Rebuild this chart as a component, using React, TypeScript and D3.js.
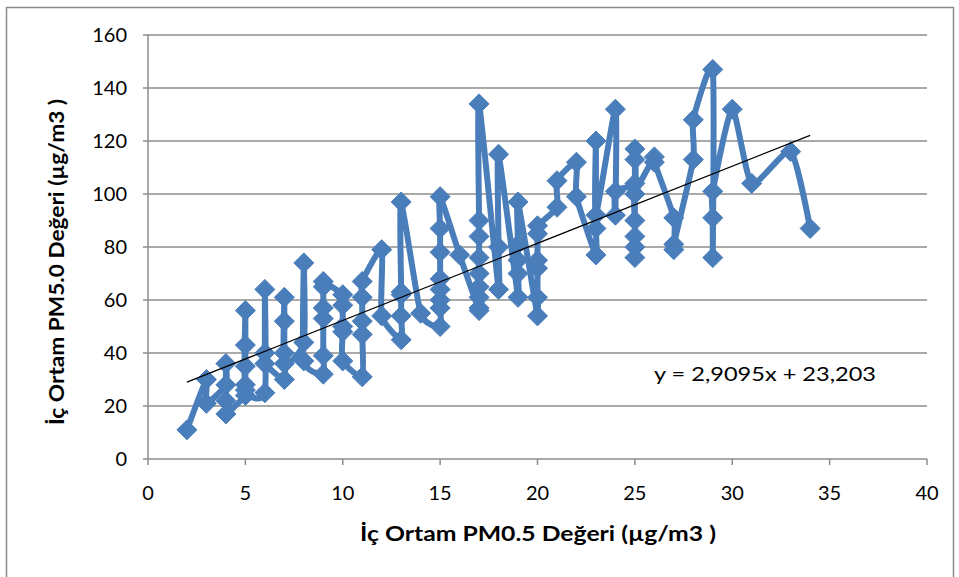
import React from "react";
import * as d3 from "d3";

// PM0.5 (x) and PM5.0 (y) values in drawing order
const pm05: number[] = [
  2,
  3, 3,
  4, 4, 4, 4,
  5, 5, 5, 5, 5, 5,
  6, 6, 6, 6,
  7, 7, 7, 7, 7,
  8, 8, 8,
  9, 9, 9, 9, 9, 9,
  10, 10, 10, 10, 10,
  11, 11, 11, 11, 11,
  12, 12,
  13, 13, 13, 13, 13,
  14,
  15, 15, 15, 15, 15, 15, 15, 15,
  16,
  17, 17, 17, 17, 17, 17, 17, 17, 17,
  18, 18, 18,
  19, 19, 19, 19, 19,
  20, 20, 20, 20, 20, 20,
  21, 21,
  22, 22,
  23, 23, 23, 23,
  24, 24, 24,
  25, 25, 25, 25, 25, 25, 25, 25,
  26, 26,
  27, 27, 27,
  28, 28,
  29, 29, 29, 29,
  30,
  31,
  33,
  34,
];
const pm50: number[] = [
  11,
  30, 21,
  28, 36, 22, 17,
  24, 28, 35, 43, 56, 26,
  25, 64, 40, 36,
  30, 40, 52, 61, 36,
  44, 74, 37,
  32, 39, 53, 57, 65, 67,
  62, 58, 50, 48, 37,
  31, 47, 52, 61, 67,
  79, 54,
  45, 54, 62, 63, 97,
  55,
  50, 57, 60, 64, 68, 78, 87, 99,
  77,
  56, 57, 61, 65, 70, 76, 84, 90, 134,
  64, 80, 115,
  61, 70, 75, 81, 97,
  54, 61, 72, 75, 85, 88,
  95, 105,
  112, 99,
  77, 87, 120, 92,
  132, 92, 101,
  104, 117, 113, 76, 80, 84, 90, 100,
  114, 112,
  91, 79, 81,
  113, 128,
  147, 76, 91, 101,
  132,
  104,
  116,
  87,
];

const xTicks = [0, 5, 10, 15, 20, 25, 30, 35, 40];
const yTicks = [0, 20, 40, 60, 80, 100, 120, 140, 160];
const slope = 2.9095;
const intercept = 23.203;
const trendRange = [2, 34];
const equationLabel = "y = 2,9095x + 23,203";
const xTitle = "İç Ortam PM0.5 Değeri (µg/m3 )";
const yTitle = "İç Ortam PM5.0 Değeri (µg/m3 )";

const W = 959;
const H = 577;
const FONT = "Lato, 'Open Sans', sans-serif";
const GRID = "#8c8c8c";
const BLUE = "#4A7EBB";

export default function App() {
  const x = d3.scaleLinear().domain([0, 40]).range([148, 927]);
  const y = d3.scaleLinear().domain([0, 160]).range([459, 35]);
  const pts: [number, number][] = pm05.map((v, i) => [x(v), y(pm50[i])]);
  const line = d3.line<[number, number]>().curve(d3.curveCardinal.tension(0.4));
  const path = line(pts) || "";
  const r = 10;
  const diamond = (cx: number, cy: number) =>
    `M${cx},${cy - r}L${cx + r},${cy}L${cx},${cy + r}L${cx - r},${cy}Z`;

  return (
    <svg
      width={W}
      height={H}
      style={{ position: "absolute", left: 0, top: 0, background: "#fff" }}
    >
      <rect x={6.5} y={7.5} width={947} height={600} fill="#fff" stroke="#8a8a8a" strokeWidth={1.5} />
      {yTicks.map((t) => (
        <g key={"y" + t}>
          <line x1={143} x2={927} y1={y(t)} y2={y(t)} stroke={GRID} strokeWidth={1.5} />
          <text x={127} y={y(t)} dy="0.35em" textAnchor="end" fontFamily={FONT} fontSize={20} fill="#000">
            {t}
          </text>
        </g>
      ))}
      <line x1={148} x2={148} y1={35} y2={459} stroke={GRID} strokeWidth={1.5} />
      {xTicks.map((t) => (
        <g key={"x" + t}>
          <line x1={x(t)} x2={x(t)} y1={459} y2={465} stroke={GRID} strokeWidth={1.5} />
          <text x={x(t)} y={500} textAnchor="middle" fontFamily={FONT} fontSize={20} fill="#000">
            {t}
          </text>
        </g>
      ))}
      <path d={path} fill="none" stroke={BLUE} strokeWidth={6} strokeLinejoin="round" />
      {pts.map(([cx, cy], i) => (
        <path key={i} d={diamond(cx, cy)} fill={BLUE} stroke={BLUE} strokeWidth={1} />
      ))}
      <line
        x1={x(trendRange[0])}
        y1={y(slope * trendRange[0] + intercept)}
        x2={x(trendRange[1])}
        y2={y(slope * trendRange[1] + intercept)}
        stroke="#000"
        strokeWidth={1.2}
      />
      <text x={654} y={381} fontFamily={FONT} fontSize={19} fill="#000" textLength={222} lengthAdjust="spacingAndGlyphs">
        {equationLabel}
      </text>
      <text x={538} y={541} textAnchor="middle" fontFamily={FONT} fontWeight="bold" fontSize={20} fill="#000" textLength={356} lengthAdjust="spacingAndGlyphs">
        {xTitle}
      </text>
      <text
        transform={`translate(64,262) rotate(-90)`}
        textAnchor="middle"
        fontFamily={FONT}
        fontWeight="bold"
        fontSize={20}
        fill="#000"
        textLength={326}
        lengthAdjust="spacingAndGlyphs"
      >
        {yTitle}
      </text>
    </svg>
  );
}
